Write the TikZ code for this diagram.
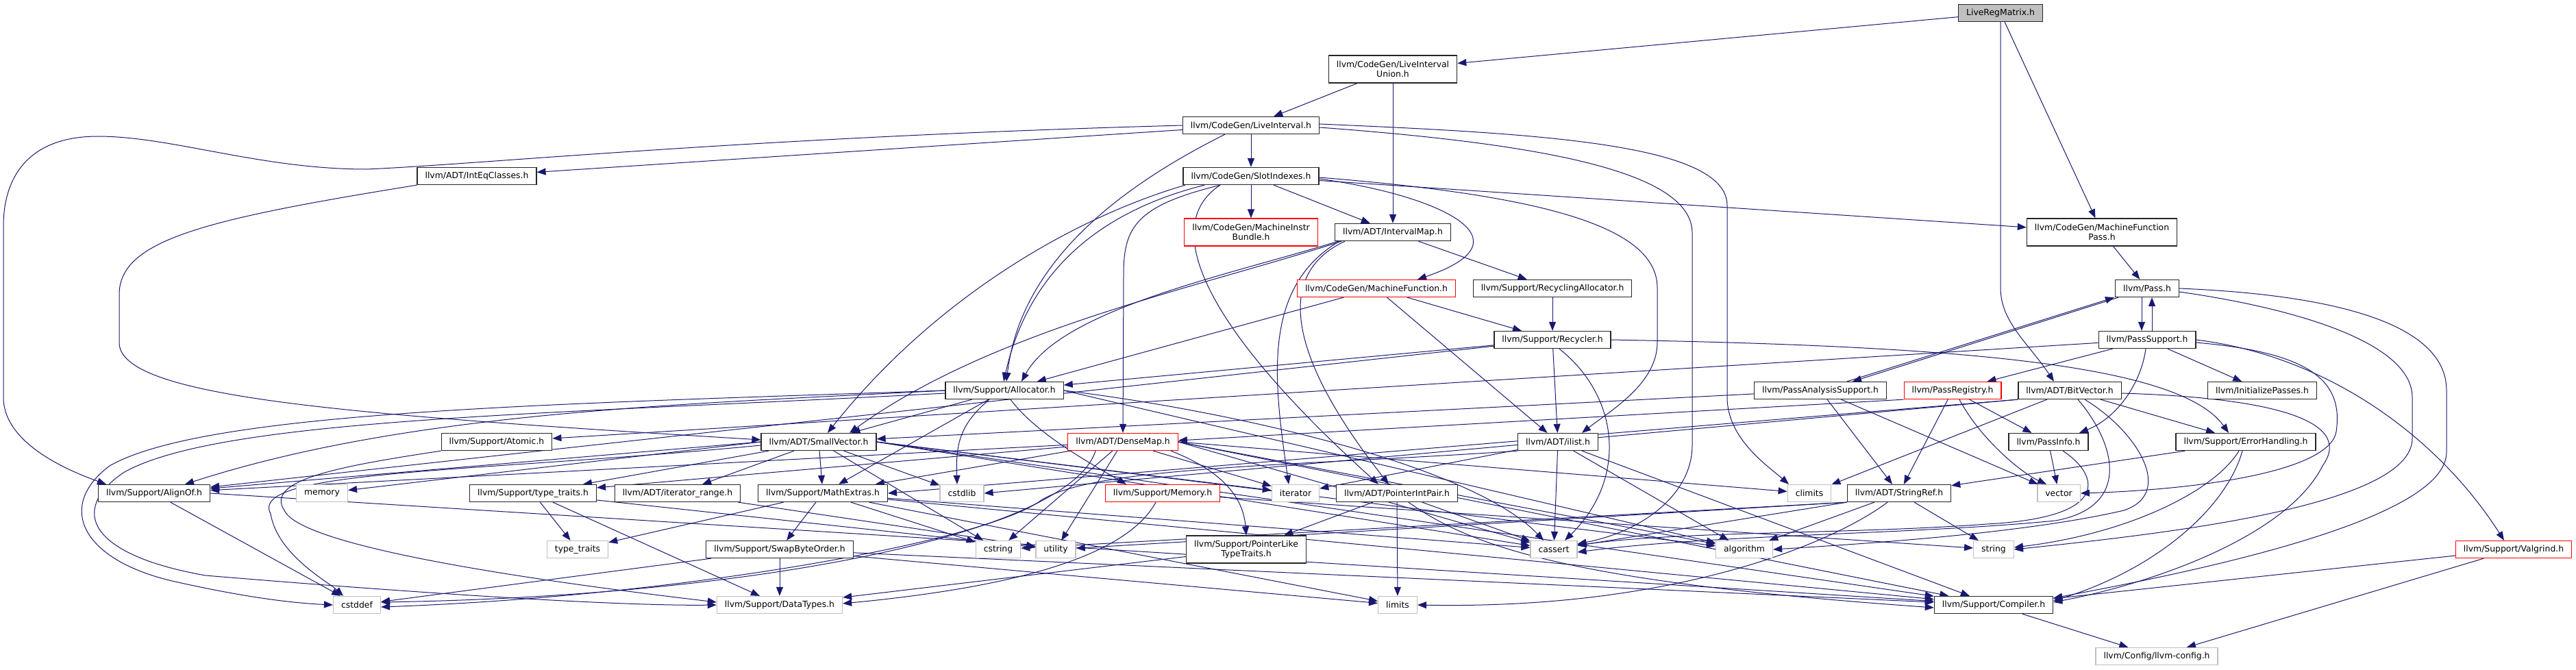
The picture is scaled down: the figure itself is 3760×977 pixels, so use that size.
\documentclass[tikz,border=0pt]{standalone}
\usepackage{fontspec}
\setmainfont{DejaVu Sans}
\usetikzlibrary{arrows.meta,backgrounds}
\definecolor{edgeblue}{HTML}{191970}
\definecolor{boxgray}{HTML}{BFBFBF}
\begin{document}
\begin{tikzpicture}[x=1pt,y=-1pt,
    hdr/.style={draw=black!85,line width=1.3pt,fill=white,minimum height=25pt,inner xsep=11.5pt,inner ysep=2pt,font=\fontsize{12.4}{14.5}\selectfont},
    hdr2/.style={hdr,align=center,minimum height=40pt},
    sys/.style={hdr,draw=boxgray},
    miss/.style={hdr,draw=red},
    miss2/.style={hdr2,draw=red},
    root/.style={hdr,fill=boxgray},
    dep/.style={draw=edgeblue,line width=1pt,-{Triangle[length=13pt,width=10pt]}}]
  \useasboundingbox (0,0) rectangle (3760,977);

  \node[root] (lrm) at (2920,19) {LiveRegMatrix.h};
  \node[hdr2] (liu) at (2033,101) {llvm/CodeGen/LiveInterval\\Union.h};
  \node[hdr] (li) at (1826,183) {llvm/CodeGen/LiveInterval.h};
  \node[hdr] (ieq) at (696,257) {llvm/ADT/IntEqClasses.h};
  \node[hdr] (slot) at (1826,257) {llvm/CodeGen/SlotIndexes.h};
  \node[miss2] (mib) at (1826,339) {llvm/CodeGen/MachineInstr\\Bundle.h};
  \node[hdr] (imap) at (2033,339) {llvm/ADT/IntervalMap.h};
  \node[miss] (mf) at (2009,421) {llvm/CodeGen/MachineFunction.h};
  \node[hdr] (recalloc) at (2266,421) {llvm/Support/RecyclingAllocator.h};
  \node[hdr] (recycler) at (2266,496) {llvm/Support/Recycler.h};
  \node[hdr2] (mfp) at (3068,339) {llvm/CodeGen/MachineFunction\\Pass.h};
  \node[hdr] (pass) at (3134,421) {llvm/Pass.h};
  \node[hdr] (passsup) at (3134,496) {llvm/PassSupport.h};
  \node[hdr] (alignof) at (225,720) {llvm/Support/AlignOf.h};
  \node[sys] (memory) at (470,720) {memory};
  \node[sys] (cstddef) at (521,883) {cstddef};
  \node[hdr] (atomic) at (725,645) {llvm/Support/Atomic.h};
  \node[hdr] (smallvec) at (1195,645) {llvm/ADT/SmallVector.h};
  \node[hdr] (ttraits) at (778,720) {llvm/Support/type\_traits.h};
  \node[hdr] (itrange) at (989,720) {llvm/ADT/iterator\_range.h};
  \node[hdr] (mathex) at (1201,720) {llvm/Support/MathExtras.h};
  \node[sys] (typetraits) at (843,802) {type\_traits};
  \node[hdr] (swap) at (1138,802) {llvm/Support/SwapByteOrder.h};
  \node[sys] (datatypes) at (1138,883) {llvm/Support/DataTypes.h};
  \node[hdr] (alloc) at (1466,570) {llvm/Support/Allocator.h};
  \node[miss] (densemap) at (1639,645) {llvm/ADT/DenseMap.h};
  \node[sys] (cstdlib) at (1404,720) {cstdlib};
  \node[miss] (memoryh) at (1697,720) {llvm/Support/Memory.h};
  \node[sys] (cstring) at (1457,802) {cstring};
  \node[sys] (utility) at (1541,802) {utility};
  \node[hdr2] (ptrlike) at (1819,802) {llvm/Support/PointerLike\\TypeTraits.h};
  \node[sys] (iterator) at (1891,720) {iterator};
  \node[hdr] (ptrint) at (2039,720) {llvm/ADT/PointerIntPair.h};
  \node[hdr] (ilist) at (2274,645) {llvm/ADT/ilist.h};
  \node[sys] (cassert) at (2268,802) {cassert};
  \node[sys] (limits) at (2040,883) {limits};
  \node[hdr] (pas) at (2657,570) {llvm/PassAnalysisSupport.h};
  \node[miss] (passreg) at (2850,570) {llvm/PassRegistry.h};
  \node[hdr] (bitvec) at (3021,570) {llvm/ADT/BitVector.h};
  \node[hdr] (passinfo) at (2990,645) {llvm/PassInfo.h};
  \node[sys] (climits) at (2641,720) {climits};
  \node[hdr] (strref) at (2772,720) {llvm/ADT/StringRef.h};
  \node[sys] (vector) at (3005,720) {vector};
  \node[sys] (algorithm) at (2546,802) {algorithm};
  \node[sys] (string) at (2910,802) {string};
  \node[hdr] (compiler) at (2910,883) {llvm/Support/Compiler.h};
  \node[sys] (config) at (3148,958) {llvm/Config/llvm-config.h};
  \node[hdr] (initpass) at (3302,570) {llvm/InitializePasses.h};
  \node[hdr] (errh) at (3278,645) {llvm/Support/ErrorHandling.h};
  \node[miss] (valgrind) at (3669,802) {llvm/Support/Valgrind.h};

  \begin{scope}[on background layer]
  \fill[white] (0,0) rectangle (3760,977);
  \draw[dep] (lrm) -- (liu);
  \draw[dep] (lrm) -- (mfp);
  \draw[dep] (lrm.south) -- (2920,420) .. controls (2920,470) and (2960,500) .. ([xshift=-23]bitvec.north);
  \draw[dep] (liu) -- (li);
  \draw[dep] (liu) -- (imap);
  \draw[dep] (li) -- (ieq);
  \draw[dep] (li) -- (slot);
  \draw[dep] (li.west) .. controls (1100,200) and (700,240) .. (535,247) .. controls (380,247) and (250,199) .. (143,199) .. controls (40,199) and (5,260) .. (5,330) -- (5,580) .. controls (5,640) and (80,680) .. ([xshift=-70]alignof.north);
  \draw[dep] ([xshift=-38]li.south) .. controls (1640,270) and (1490,380) .. ([xshift=3]alloc.north);
  \draw[dep] ([yshift=2pt]li.east) .. controls (2250,195) and (2521,210) .. (2521,300) -- (2521,580) .. controls (2521,640) and (2580,680) .. ([xshift=-30]climits.north);
  \draw[dep] ([yshift=-3pt]li.east) .. controls (2250,210) and (2470,250) .. (2470,340) -- (2470,650) .. controls (2470,720) and (2400,775) .. ([yshift=8pt]cassert.east);
  \draw[dep] (slot) -- (mib);
  \draw[dep] (slot) -- (imap);
  \draw[dep] ([yshift=-4pt]slot.east) .. controls (2100,285) and (2240,350) .. ([xshift=60]mf.north);
  \draw[dep] ([yshift=-2pt]slot.east) .. controls (2250,285) and (2419,330) .. (2419,420) -- (2419,500) .. controls (2419,560) and (2350,600) .. ([xshift=35]ilist.north);
  \draw[dep] (slot) -- (mfp);
  \draw[dep] ([xshift=-45]slot.south) .. controls (1660,300) and (1640,330) .. (1640,400) -- (densemap.north);
  \draw[dep] ([xshift=-45]slot.south) .. controls (1690,330) and (1760,480) .. ([xshift=-27]ptrint.north);
  \draw[dep] ([xshift=-96]slot.south) .. controls (1560,320) and (1360,440) .. ([xshift=13]smallvec.north);
  \draw[dep] ([xshift=-68]slot.south) .. controls (1600,310) and (1500,400) .. ([xshift=-1]alloc.north);
  \draw[dep] ([xshift=-75]imap.south) .. controls (1750,420) and (1450,480) .. ([xshift=45]smallvec.north);
  \draw[dep] ([xshift=-80]imap.south) .. controls (1800,400) and (1550,450) .. ([xshift=25]alloc.north);
  \draw[dep] (imap) -- (recalloc);
  \draw[dep] ([xshift=-70]imap.south) .. controls (1860,400) and (1880,520) .. ([xshift=-12]ptrint.north);
  \draw[dep] ([xshift=-78]imap.south) .. controls (1840,420) and (1860,560) .. ([xshift=-10]iterator.north);
  \draw[dep] (mf) -- (alloc);
  \draw[dep] (mf) -- (ilist);
  \draw[dep] (mf) -- (recycler);
  \draw[dep] (recalloc) -- (recycler);
  \draw[dep] (recycler) -- (ilist);
  \draw[dep] ([xshift=10]recycler.south) .. controls (2365,580) and (2375,700) .. ([xshift=16]cassert.north);
  \draw[dep] (recycler) -- (alloc);
  \draw[dep] (recycler) -- (alignof);
  \draw[dep] (recycler.east) .. controls (2850,505) and (3180,530) .. ([xshift=-25]errh.north);
  \draw[dep] (ieq.south west) .. controls (300,320) and (174,350) .. (174,430) -- (174,500) .. controls (174,580) and (500,605) .. ([yshift=3pt]smallvec.west);
  \draw[dep] (mfp) -- (pass);
  \draw[dep] ([xshift=-8]pass.south) -- ([xshift=-8]passsup.north);
  \draw[dep] ([xshift=7]passsup.north) -- ([xshift=7]pass.south);
  \draw[dep] ([xshift=-42]pass.south) -- ([xshift=47]pas.north);
  \draw[dep] ([xshift=39]pas.north) -- ([xshift=-48]pass.south);
  \draw[dep] (pass.east) .. controls (3400,430) and (3571,470) .. (3571,570) -- (3571,660) .. controls (3571,760) and (3200,835) .. ([yshift=10pt]compiler.east);
  \draw[dep] ([yshift=-5pt]pass.east) .. controls (3350,450) and (3521,500) .. (3521,580) -- (3521,640) .. controls (3521,740) and (3150,780) .. (string.east);
  \draw[dep] (passsup) -- (initpass);
  \draw[dep] (passsup) -- (passreg);
  \draw[dep] ([xshift=-2]passsup.south) .. controls (3125,560) and (3090,610) .. ([xshift=45]passinfo.north);
  \draw[dep] (passsup) -- (atomic);
  \draw[dep] (passsup.east) .. controls (3400,520) and (3560,640) .. ([xshift=-14]valgrind.north);
  \draw[dep] ([yshift=-4pt]passsup.east) .. controls (3380,515) and (3420,560) .. (3410,630) .. controls (3400,690) and (3200,715) .. (vector.east);
  \draw[dep] (pas) -- (smallvec);
  \draw[dep] (pas) -- (strref);
  \draw[dep] (pas) -- (vector);
  \draw[dep] (passreg.south west) -- ([yshift=2pt]densemap.east);
  \draw[dep] (passreg) -- (strref);
  \draw[dep] (passreg) -- (passinfo);
  \draw[dep] ([xshift=10]passreg.south) .. controls (2890,640) and (2950,690) .. ([xshift=-18]vector.north);
  \draw[dep] (passinfo) -- (vector);
  \draw[dep] ([xshift=21]passinfo.south) .. controls (3060,690) and (3090,755) .. (2900,765) .. controls (2700,780) and (2450,775) .. ([yshift=6pt]cassert.east);
  \draw[dep] (bitvec) -- (climits);
  \draw[dep] (bitvec) -- (errh);
  \draw[dep] ([yshift=-4pt]bitvec.east) .. controls (3300,580) and (3440,610) .. (3390,680) .. controls (3340,780) and (3150,850) .. ([yshift=4pt]compiler.east);
  \draw[dep] (bitvec.south west) -- (mathex.east);
  \draw[dep] (bitvec.south west) -- (cstdlib.east);
  \draw[dep] ([xshift=22]bitvec.south) .. controls (3120,630) and (3175,720) .. (3100,745) .. controls (2950,780) and (2700,795) .. (algorithm.east);
  \draw[dep] ([xshift=12]bitvec.south) .. controls (3090,650) and (3110,740) .. (3000,760) .. controls (2800,780) and (2500,780) .. ([yshift=-4pt]cassert.east);
  \draw[dep] (errh) -- (strref);
  \draw[dep] ([xshift=-5]errh.south) .. controls (3250,740) and (3150,830) .. ([yshift=6pt]compiler.east);
  \draw[dep] ([xshift=-10]errh.south) .. controls (3230,720) and (3100,780) .. ([yshift=3pt]string.east);
  \draw[dep] (valgrind) -- (compiler);
  \draw[dep] (valgrind) -- (config);
  \draw[dep] (compiler) -- (config);
  \draw[dep] (strref) -- (algorithm);
  \draw[dep] (strref) -- (string);
  \draw[dep] ([xshift=-17]strref.south) .. controls (2680,790) and (2450,890) .. (limits.east);
  \draw[dep] (strref.south west) -- (cassert);
  \draw[dep] (strref.south west) -- (cstring);
  \draw[dep] (strref.south west) -- (utility);
  \draw[dep] (alloc) -- (smallvec);
  \draw[dep] (alloc.west) .. controls (1000,590) and (600,600) .. ([xshift=45]alignof.north);
  \draw[dep] (alloc.west) .. controls (800,590) and (300,600) .. (160,680) .. controls (80,740) and (120,820) .. (260,850) .. controls (350,870) and (420,880) .. (cstddef.west);
  \draw[dep] ([yshift=-4pt]alloc.west) .. controls (800,605) and (320,610) .. (180,690) .. controls (100,745) and (130,810) .. (300,840) .. controls (600,865) and (900,885) .. (datatypes.west);
  \draw[dep] (alloc) -- (mathex);
  \draw[dep] ([xshift=9]alloc.south) .. controls (1510,630) and (1580,670) .. ([xshift=-53]memoryh.north);
  \draw[dep] ([xshift=-22]alloc.south) .. controls (1400,620) and (1395,650) .. ([xshift=-7]cstdlib.north);
  \draw[dep] (alloc.east) -- (algorithm);
  \draw[dep] (alloc.east) .. controls (1800,600) and (2150,680) .. ([xshift=-15]cassert.north);
  \draw[dep] (smallvec) -- (itrange);
  \draw[dep] (smallvec) -- (mathex);
  \draw[dep] (smallvec) -- (ttraits);
  \draw[dep] (smallvec.west) -- (alignof);
  \draw[dep] (smallvec.west) -- (memory);
  \draw[dep] ([yshift=-5pt]smallvec.west) .. controls (700,690) and (360,685) .. (395,750) .. controls (405,810) and (480,850) .. ([xshift=-20]cstddef.north);
  \draw[dep] (smallvec) -- (cstdlib);
  \draw[dep] (smallvec) -- (cstring);
  \draw[dep] (smallvec.east) -- (iterator);
  \draw[dep] (smallvec.east) -- (cassert);
  \draw[dep] (smallvec.east) -- (algorithm);
  \draw[dep] (smallvec.east) -- (compiler);
  \draw[dep] (itrange) -- (utility);
  \draw[dep] (ttraits) -- (typetraits);
  \draw[dep] (ttraits) -- (datatypes);
  \draw[dep] (ttraits) -- (utility);
  \draw[dep] (mathex) -- (swap);
  \draw[dep] (mathex) -- (typetraits);
  \draw[dep] (mathex) -- (cstring);
  \draw[dep] (mathex) -- (cassert);
  \draw[dep] (mathex) -- (limits);
  \draw[dep] (mathex) -- (compiler);
  \draw[dep] (swap) -- (datatypes);
  \draw[dep] (swap) -- (cstddef);
  \draw[dep] (swap) -- (limits);
  \draw[dep] (swap) -- (compiler);
  \draw[dep] (densemap) -- (alignof);
  \draw[dep] (densemap) -- (ttraits);
  \draw[dep] (densemap) -- (mathex);
  \draw[dep] (densemap) -- (cstring);
  \draw[dep] (densemap) -- (utility);
  \draw[dep] ([xshift=70]densemap.south) .. controls (1790,690) and (1815,730) .. (ptrlike.north);
  \draw[dep] (densemap) -- (iterator);
  \draw[dep] ([xshift=-40]densemap.south) .. controls (1560,780) and (1100,870) .. ([yshift=4pt]cstddef.east);
  \draw[dep] (densemap.east) -- (algorithm);
  \draw[dep] (densemap.east) -- (cassert);
  \draw[dep] (densemap.east) -- (climits);
  \draw[dep] (densemap.east) -- (compiler);
  \draw[dep] ([xshift=-10]memoryh.south) .. controls (1640,820) and (1450,860) .. ([yshift=2pt]datatypes.east);
  \draw[dep] (memoryh) -- (string);
  \draw[dep] (ptrlike) -- (datatypes);
  \draw[dep] (ptrint) -- (ptrlike);
  \draw[dep] (ptrint) -- (limits);
  \draw[dep] (ptrint) -- (cassert);
  \draw[dep] ([xshift=17]ptrint.south) .. controls (2150,800) and (2300,850) .. ([yshift=-4pt]compiler.west);
  \draw[dep] (ilist) -- (iterator);
  \draw[dep] (ilist) -- (cassert);
  \draw[dep] (ilist.south west) .. controls (1900,680) and (1600,680) .. (1520,730) .. controls (1440,790) and (1000,870) .. ([yshift=-3pt]cstddef.east);
  \draw[dep] (ilist) -- (algorithm);
  \draw[dep] (ilist) -- (compiler);
  \draw[dep] (alignof) -- (cstddef);
  \draw[dep] (alignof.east) -- (compiler);
  \draw[dep] (atomic.south west) .. controls (500,680) and (385,700) .. (415,745) .. controls (440,800) and (800,850) .. ([yshift=4pt]datatypes.west);
  \end{scope}
\end{tikzpicture}
\end{document}
